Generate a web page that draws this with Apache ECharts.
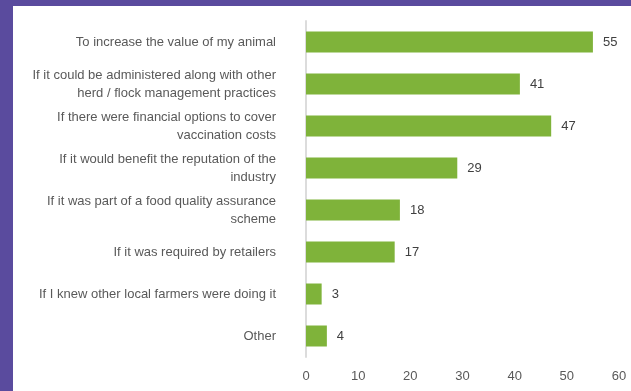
<!DOCTYPE html>
<html>
<head>
<meta charset="utf-8">
<script src="https://cdn.jsdelivr.net/npm/echarts@6/dist/echarts.min.js"></script>
<style>
  html, body { margin: 0; padding: 0; background: #ffffff; }
  #chart { width: 631px; height: 391px; }
</style>
</head>
<body>
<div id="chart"></div>
<script>
// Reasons that would encourage vaccination (top to bottom)
const categories = [
  'To increase the value of my animal',
  'If it could be administered along with other\nherd / flock management practices',
  'If there were financial options to cover\nvaccination costs',
  'If it would benefit the reputation of the\nindustry',
  'If it was part of a food quality assurance\nscheme',
  'If it was required by retailers',
  'If I knew other local farmers were doing it',
  'Other'
];
const counts = [55, 41, 47, 29, 18, 17, 3, 4];
const xTicks = [0, 10, 20, 30, 40, 50, 60];

const chart = echarts.init(document.getElementById('chart'), null, { renderer: 'canvas' });

const FONT = 'Liberation Sans, Arial, sans-serif';

chart.setOption({
  backgroundColor: '#ffffff',
  animation: false,
  graphic: [
    { type: 'rect', left: 0, top: 0, shape: { width: 631, height: 6 }, style: { fill: '#5a4b9e' }, z: -10 },
    { type: 'rect', left: 0, top: 0, shape: { width: 13, height: 391 }, style: { fill: '#5a4b9e' }, z: -10 }
  ],
  grid: { left: 306, right: 12, top: 21, height: 336, containLabel: false },
  xAxis: {
    type: 'value',
    min: xTicks[0],
    max: xTicks[xTicks.length - 1],
    interval: 10,
    axisLine: { show: false },
    axisTick: { show: false },
    splitLine: { show: false },
    axisLabel: {
      color: '#595959',
      fontFamily: FONT,
      fontSize: 13,
      margin: 13
    }
  },
  yAxis: {
    type: 'category',
    inverse: true,
    data: categories,
    axisLine: { show: true, lineStyle: { color: '#dcdcdc', width: 2 } },
    axisTick: { show: false },
    axisLabel: {
      color: '#595959',
      fontFamily: FONT,
      fontSize: 13,
      lineHeight: 18,
      margin: 30,
      align: 'right'
    }
  },
  series: [{
    type: 'bar',
    data: counts,
    barWidth: '50%',
    itemStyle: { color: '#7fb33a' },
    label: {
      show: true,
      position: 'right',
      distance: 10,
      color: '#404040',
      fontFamily: FONT,
      fontSize: 13
    }
  }]
});
</script>
</body>
</html>
